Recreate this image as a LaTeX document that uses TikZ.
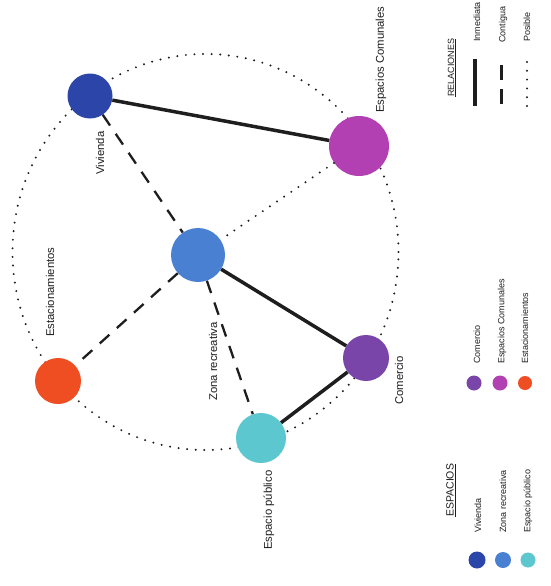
\documentclass[tikz,border=0pt]{standalone}
\usepackage{fontspec}
\setmainfont{Liberation Sans}
\definecolor{cviv}{HTML}{2B45A8}
\definecolor{czona}{HTML}{4A80D2}
\definecolor{cpub}{HTML}{5DC7D0}
\definecolor{ccom}{HTML}{7A45A8}
\definecolor{cecom}{HTML}{B340B2}
\definecolor{cest}{HTML}{EE4E22}
\definecolor{ink}{HTML}{1E1E1E}
\begin{document}
\begin{tikzpicture}[x=1pt,y=-1pt,
  space/.style={circle,inner sep=0pt,minimum size=#1},
  lbl/.style={rotate=90,anchor=west,inner sep=0pt,text=ink,font=\fontsize{11.3}{13}\selectfont},
  leg/.style={rotate=90,anchor=west,inner sep=0pt,text=ink,font=\fontsize{9}{11}\selectfont},
  inmediata/.style={draw=ink,line width=3.5pt},
  contigua/.style={draw=ink,line width=2.3pt,dash pattern=on 13pt off 10pt},
  posible/.style={draw=ink,line width=2.2pt,line cap=round,dash pattern=on 0pt off 8.6pt},
]
\useasboundingbox[fill=white] (0,0) rectangle (550,586);

% outer ring of possible relations
\draw[posible] (205.5,252) ellipse[x radius=193pt,y radius=198pt];

% spaces
\node[space=45pt,fill=cviv]  (viv)  at (90,96)   {};
\node[space=60pt,fill=cecom] (ecom) at (359,146) {};
\node[space=54pt,fill=czona] (zona) at (198,255) {};
\node[space=46pt,fill=cest]  (est)  at (58,381)  {};
\node[space=46pt,fill=ccom]  (com)  at (366,358) {};
\node[space=50pt,fill=cpub]  (epub) at (261,438) {};

% relations
\draw[inmediata] (viv) -- (ecom);
\draw[inmediata] (zona) -- (com);
\draw[inmediata] (com) -- (epub);
\draw[contigua] (viv) -- (zona);
\draw[contigua] (zona) -- (est);
\draw[contigua] (zona) -- (epub);
\draw[posible] (ecom) -- (zona);

% labels
\node[lbl] (tviv)  at (100,175) {Vivienda};
\node[lbl] (tecom) at (381,113) {Espacios Comunales};
\node[lbl] (test)  at (50,337)  {Estacionamientos};
\node[lbl] (tzona) at (213,401) {Zona recreativa};
\node[lbl] (tcom)  at (399,405) {Comercio};
\node[lbl] (tpub)  at (269,550) {Espacio público};

% legend: relations
\node[leg] (lrel) at (452,97) {\underline{RELACIONES}};
\coordinate (i1) at (475,59);  \coordinate (i2) at (475,106);
\coordinate (c1) at (501,65);  \coordinate (c2) at (501,80);
\coordinate (c3) at (501,89);  \coordinate (c4) at (501,104);
\coordinate (p1) at (527,62);  \coordinate (p2) at (527,107);
\draw[draw=ink,line width=3.8pt] (i1) -- (i2);
\draw[draw=ink,line width=3pt] (c1) -- (c2) (c3) -- (c4);
\draw[posible,dash pattern=on 0pt off 8.8pt] (p1) -- (p2);
\node[leg] (linm) at (477,42) {Inmediata};
\node[leg] (lcon) at (503,43) {Contigua};
\node[leg] (lpos) at (527,42) {Posible};

% legend: spaces (second group)
\node[space=15pt,fill=ccom]  (kcom)  at (474,383) {};
\node[space=15pt,fill=cecom] (kecom) at (500,383) {};
\node[space=14pt,fill=cest]  (kest)  at (525,383) {};
\node[leg] (lcom)  at (477,364) {Comercio};
\node[leg] (lecom) at (502,364) {Espacios Comunales};
\node[leg] (lest)  at (525,364) {Estacionamientos};

% legend: spaces (first group)
\node[leg,font=\fontsize{10.5}{12}\selectfont] (lesp) at (451,517) {\underline{ESPACIOS}};
\node[space=17pt,fill=cviv]  (kviv)  at (477,560) {};
\node[space=16pt,fill=czona] (kzona) at (503,560) {};
\node[space=15pt,fill=cpub]  (kpub)  at (528,560) {};
\node[leg] (lviv)  at (478,533) {Vivienda};
\node[leg] (lzona) at (503,533) {Zona recreativa};
\node[leg] (lpub)  at (528,533) {Espacio público};
\end{tikzpicture}
\end{document}
